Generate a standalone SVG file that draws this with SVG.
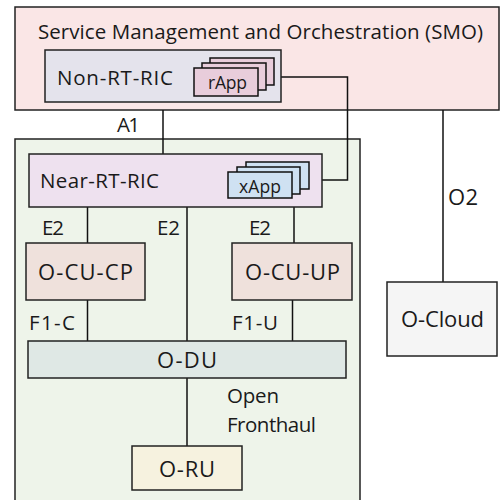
<svg xmlns="http://www.w3.org/2000/svg" width="500" height="500" viewBox="0 0 500 500">
  <style>
    text { font-family: "Open Sans", "Liberation Sans", Arial, sans-serif; font-size: 20.5px; fill: #1a1a1a; }
    .box { stroke: #222; stroke-width: 1.5; }
    .app { stroke: #111; stroke-width: 1.5; }
    .small { font-size: 17.5px; }
    .wide { font-size: 22px; }
    .link { fill: none; stroke: #111; stroke-width: 1.5; }
  </style>
  <rect width="500" height="500" fill="#ffffff"/>

  <!-- SMO container -->
  <g id="smo">
    <rect class="box" x="15" y="7" width="484" height="103" fill="#fae6e6"/>
    <text x="38" y="39" textLength="445">Service Management and Orchestration (SMO)</text>
  </g>

  <!-- RAN container -->
  <g id="ran">
    <rect class="box" x="15" y="139" width="345" height="370" fill="#eef4ea" stroke="#444"/>
  </g>

  <!-- Connectors and interface labels -->
  <g id="connectors">
    <line class="link" x1="163" y1="110" x2="163" y2="154"/>
    <polyline class="link" points="281,77 347.5,77 347.5,180 322,180"/>
    <line class="link" x1="443" y1="110" x2="443" y2="282"/>
    <line class="link" x1="87.5" y1="207" x2="87.5" y2="243"/>
    <line class="link" x1="187" y1="207" x2="187" y2="341"/>
    <line class="link" x1="294" y1="207" x2="294" y2="243"/>
    <line class="link" x1="87.5" y1="300" x2="87.5" y2="341"/>
    <line class="link" x1="292.5" y1="300" x2="292.5" y2="341"/>
    <line class="link" x1="187" y1="378" x2="187" y2="446"/>
    <text x="117" y="132" textLength="23">A1</text>
    <text x="42" y="235" textLength="22">E2</text>
    <text x="157" y="235" textLength="23">E2</text>
    <text x="249" y="235" textLength="22">E2</text>
    <text x="29" y="330" textLength="46">F1-C</text>
    <text x="232" y="330" textLength="46">F1-U</text>
    <text class="wide" x="448" y="205" textLength="30">O2</text>
    <text x="227" y="403" textLength="52">Open</text>
    <text x="227" y="432" textLength="89">Fronthaul</text>
  </g>

  <g id="non-rt-ric">
    <rect class="box" x="45" y="50" width="236" height="52" fill="#e4e3ec"/>
    <text x="57" y="85" textLength="116">Non-RT-RIC</text>
  </g>

  <g id="rapp">
    <rect class="app" x="210" y="58" width="64" height="27" fill="#e8cddb"/>
    <rect class="app" x="202" y="63" width="64" height="27" fill="#e8cddb"/>
    <rect class="app" x="194" y="68" width="64" height="28" fill="#e8cddb"/>
    <text class="small" x="208" y="89" textLength="39">rApp</text>
  </g>

  <g id="near-rt-ric">
    <rect class="box" x="29" y="154" width="293" height="53" fill="#eee1ef"/>
    <text x="40" y="188" textLength="119">Near-RT-RIC</text>
  </g>

  <g id="xapp">
    <rect class="app" x="246" y="162" width="63" height="27" fill="#cfe1f2"/>
    <rect class="app" x="237" y="167" width="63" height="27" fill="#cfe1f2"/>
    <rect class="app" x="228" y="172" width="64" height="26" fill="#cfe1f2"/>
    <text class="small" x="239" y="193" textLength="42">xApp</text>
  </g>

  <g id="o-cu-cp">
    <rect class="box" x="26" y="243" width="119" height="57" fill="#efe1dc"/>
    <text class="wide" x="38" y="280" textLength="95">O-CU-CP</text>
  </g>

  <g id="o-cu-up">
    <rect class="box" x="232" y="243" width="120" height="57" fill="#efe1dc"/>
    <text class="wide" x="245" y="280" textLength="95">O-CU-UP</text>
  </g>

  <g id="o-du">
    <rect class="box" x="28" y="341" width="318" height="37" fill="#dfe8e5"/>
    <text class="wide" x="157" y="368" textLength="60">O-DU</text>
  </g>

  <g id="o-ru">
    <rect class="box" x="132" y="446" width="110" height="44" fill="#f6f2df"/>
    <text class="wide" x="159" y="477" textLength="56">O-RU</text>
  </g>

  <g id="o-cloud">
    <rect class="box" x="387" y="282" width="110" height="74" fill="#f5f5f5"/>
    <text class="wide" x="401" y="327" textLength="83">O-Cloud</text>
  </g>
</svg>
